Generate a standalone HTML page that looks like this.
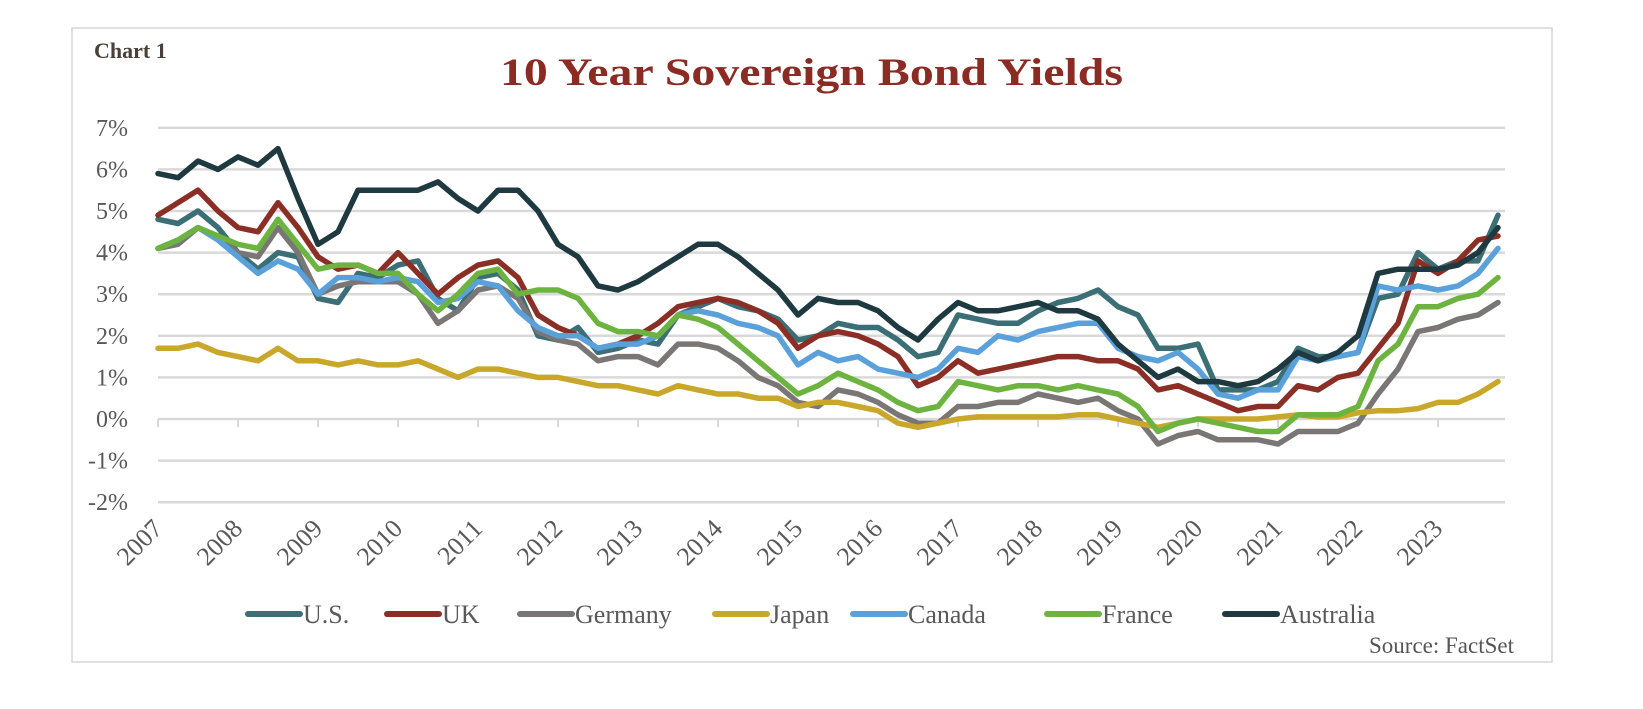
<!DOCTYPE html>
<html><head><meta charset="utf-8"><style>
html,body{margin:0;padding:0;background:#fff;}
svg{display:block;}
text{font-family:"Liberation Serif",serif;}
</style></head><body>
<svg id="chart" width="1643" height="709" viewBox="0 0 1643 709" xmlns="http://www.w3.org/2000/svg">
<rect x="72" y="28" width="1480" height="634" fill="#fff" stroke="#d6d6d6" stroke-width="1.5"/>
<text x="94" y="58" font-size="22" font-weight="bold" fill="#4a4038">Chart 1</text>
<text x="500" y="85" font-size="39" font-weight="bold" fill="#8b2b24" textLength="623" lengthAdjust="spacingAndGlyphs">10 Year Sovereign Bond Yields</text>
<g id="grid"></g>
<g id="xaxis"></g>
<g id="series"></g>
<g id="legend"></g>
<text x="1514" y="653" font-size="23" fill="#555" text-anchor="end">Source: FactSet</text>
</svg>
<script>
const yTicks = [7,6,5,4,3,2,1,0,-1,-2];
const yearLabels = ["2007","2008","2009","2010","2011","2012","2013","2014","2015","2016","2017","2018","2019","2020","2021","2022","2023"];
const startYear = 2007;
const pointsPerYear = 4;
const usData = [4.8,4.7,5.0,4.6, 4.0,3.6,4.0,3.9, 2.9,2.8,3.5,3.4, 3.7,3.8,2.9,2.6, 3.4,3.5,3.1,2.0, 1.9,2.2,1.6,1.7, 1.9,1.8,2.5,2.7, 2.9,2.7,2.6,2.4, 1.9,2.0,2.3,2.2, 2.2,1.9,1.5,1.6, 2.5,2.4,2.3,2.3, 2.6,2.8,2.9,3.1, 2.7,2.5,1.7,1.7, 1.8,0.7,0.7,0.7, 0.9,1.7,1.5,1.5, 1.6,2.9,3.0,4.0, 3.6,3.8,3.8,4.9];
const ukData = [4.9,5.2,5.5,5.0, 4.6,4.5,5.2,4.6, 3.9,3.6,3.7,3.5, 4.0,3.5,3.0,3.4, 3.7,3.8,3.4,2.5, 2.2,2.0,1.7,1.8, 2.0,2.3,2.7,2.8, 2.9,2.8,2.6,2.3, 1.7,2.0,2.1,2.0, 1.8,1.5,0.8,1.0, 1.4,1.1,1.2,1.3, 1.4,1.5,1.5,1.4, 1.4,1.2,0.7,0.8, 0.6,0.4,0.2,0.3, 0.3,0.8,0.7,1.0, 1.1,1.7,2.3,3.8, 3.5,3.8,4.3,4.4];
const germanyData = [4.1,4.2,4.6,4.4, 4.0,3.9,4.6,4.0, 3.0,3.2,3.3,3.3, 3.3,3.0,2.3,2.6, 3.1,3.2,2.9,2.1, 1.9,1.8,1.4,1.5, 1.5,1.3,1.8,1.8, 1.7,1.4,1.0,0.8, 0.4,0.3,0.7,0.6, 0.4,0.1,-0.1,-0.1, 0.3,0.3,0.4,0.4, 0.6,0.5,0.4,0.5, 0.2,0.0,-0.6,-0.4, -0.3,-0.5,-0.5,-0.5, -0.6,-0.3,-0.3,-0.3, -0.1,0.6,1.2,2.1, 2.2,2.4,2.5,2.8];
const japanData = [1.7,1.7,1.8,1.6, 1.5,1.4,1.7,1.4, 1.4,1.3,1.4,1.3, 1.3,1.4,1.2,1.0, 1.2,1.2,1.1,1.0, 1.0,0.9,0.8,0.8, 0.7,0.6,0.8,0.7, 0.6,0.6,0.5,0.5, 0.3,0.4,0.4,0.3, 0.2,-0.1,-0.2,-0.1, 0.0,0.05,0.05,0.05, 0.05,0.05,0.1,0.1, 0.0,-0.1,-0.2,-0.1, 0.0,0.0,0.0,0.0, 0.05,0.1,0.05,0.05, 0.15,0.2,0.2,0.25, 0.4,0.4,0.6,0.9];
const canadaData = [4.1,4.3,4.6,4.3, 3.9,3.5,3.8,3.6, 3.0,3.4,3.4,3.3, 3.4,3.3,2.8,2.9, 3.3,3.2,2.6,2.2, 2.0,2.0,1.7,1.8, 1.8,2.0,2.5,2.6, 2.5,2.3,2.2,2.0, 1.3,1.6,1.4,1.5, 1.2,1.1,1.0,1.2, 1.7,1.6,2.0,1.9, 2.1,2.2,2.3,2.3, 1.7,1.5,1.4,1.6, 1.2,0.6,0.5,0.7, 0.7,1.5,1.4,1.5, 1.6,3.2,3.1,3.2, 3.1,3.2,3.5,4.1];
const franceData = [4.1,4.3,4.6,4.4, 4.2,4.1,4.8,4.2, 3.6,3.7,3.7,3.5, 3.5,3.0,2.6,3.0, 3.5,3.6,3.0,3.1, 3.1,2.9,2.3,2.1, 2.1,2.0,2.5,2.4, 2.2,1.8,1.4,1.0, 0.6,0.8,1.1,0.9, 0.7,0.4,0.2,0.3, 0.9,0.8,0.7,0.8, 0.8,0.7,0.8,0.7, 0.6,0.3,-0.3,-0.1, 0.0,-0.1,-0.2,-0.3, -0.3,0.1,0.1,0.1, 0.3,1.4,1.8,2.7, 2.7,2.9,3.0,3.4];
const australiaData = [5.9,5.8,6.2,6.0, 6.3,6.1,6.5,5.3, 4.2,4.5,5.5,5.5, 5.5,5.5,5.7,5.3, 5.0,5.5,5.5,5.0, 4.2,3.9,3.2,3.1, 3.3,3.6,3.9,4.2, 4.2,3.9,3.5,3.1, 2.5,2.9,2.8,2.8, 2.6,2.2,1.9,2.4, 2.8,2.6,2.6,2.7, 2.8,2.6,2.6,2.4, 1.8,1.4,1.0,1.2, 0.9,0.9,0.8,0.9, 1.2,1.6,1.4,1.6, 2.0,3.5,3.6,3.6, 3.6,3.7,4.0,4.6];
const seriesNames = ["U.S.","UK","Germany","Japan","Canada","France","Australia"];

const NS = "http://www.w3.org/2000/svg";
const X0 = 158, PX_PER_YEAR = 80, PLOT_RIGHT = 1505;
const Y0 = 419, PX_PER_PCT = 41.6;
function xScale(t){ return X0 + (t - startYear) * PX_PER_YEAR; }
function yScale(v){ return Y0 - v * PX_PER_PCT; }
function mk(tag, attrs, parent){ const e = document.createElementNS(NS, tag); for (const k in attrs) e.setAttribute(k, attrs[k]); parent.appendChild(e); return e; }

const grid = document.getElementById('grid');
yTicks.forEach(v => {
  const l = mk('line', {x1:X0, x2:PLOT_RIGHT, y1:yScale(v), y2:yScale(v), stroke:'#d9d9d9', 'stroke-width':2.5}, grid);
  
  
  const t = mk('text', {x:128, y:yScale(v)+8, 'font-size':24, fill:'#595959', 'text-anchor':'end'}, grid);
  t.textContent = v + '%';
  
  
});

const xa = document.getElementById('xaxis');
yearLabels.forEach((lab, i) => {
  const x = xScale(startYear + i);
  const tk = mk('line', {x1:x, x2:x, y1:Y0, y2:Y0+8, stroke:'#d9d9d9', 'stroke-width':2}, xa);
  
  
  const ax = x + 6, ay = Y0 + 111;
  const t = mk('text', {x:ax, y:ay, 'font-size':26, fill:'#595959', 'text-anchor':'end', transform:'rotate(-45 '+ax+' '+ay+')'}, xa);
  t.textContent = lab;
  
  
});

const allData = [usData, ukData, germanyData, japanData, canadaData, franceData, australiaData];
const colors = ['#3b6e75','#8b2e26','#7a7676','#c9a72a','#5aa1dc','#6db33f','#1e3a40'];
const sg = document.getElementById('series');
allData.forEach((d, s) => {
  const pts = d.map((v, i) => xScale(startYear + i / pointsPerYear).toFixed(1) + ',' + yScale(v).toFixed(1)).join(' ');
  const p = mk('polyline', {points:pts, fill:'none', stroke:colors[s], 'stroke-width':5.5, 'stroke-linejoin':'round', 'stroke-linecap':'round'}, sg);
  
  
});

const lg = document.getElementById('legend');
const legendX = [248, 387, 520, 715, 853, 1047, 1225];
seriesNames.forEach((n, s) => {
  const x = legendX[s];
  const l = mk('line', {x1:x, x2:x+52, y1:614, y2:614, stroke:colors[s], 'stroke-width':6, 'stroke-linecap':'round'}, lg);
  
  
  const t = mk('text', {x:x+55, y:623, 'font-size':26, fill:'#595959'}, lg);
  t.textContent = n;
  
  
});
</script>
</body></html>
